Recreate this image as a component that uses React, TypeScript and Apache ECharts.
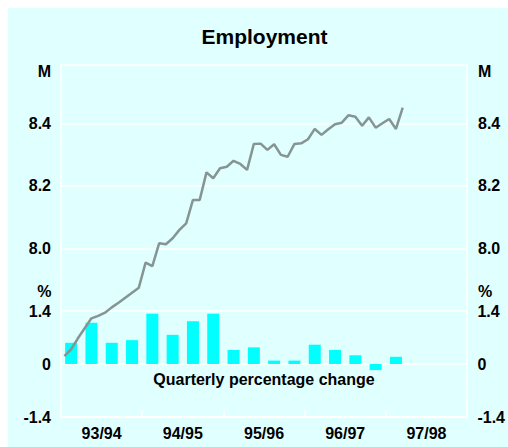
import React, { useEffect, useRef } from "react";
import * as echarts from "echarts";

// Monthly categories: Jul-1993 .. Jun-1998
const monthNames = ["Jul", "Aug", "Sep", "Oct", "Nov", "Dec", "Jan", "Feb", "Mar", "Apr", "May", "Jun"];
const fiscalYears = ["93/94", "94/95", "95/96", "96/97", "97/98"];
const months: string[] = [];
fiscalYears.forEach((fy) => {
  const [a, b] = fy.split("/");
  monthNames.forEach((m, i) => months.push(`${m}-${i < 6 ? a : b}`));
});

// Employment, millions (Jul-93 .. Sep-97)
const employment = [
  7.655, 7.677, 7.712, 7.744, 7.776, 7.784, 7.794, 7.811, 7.826, 7.842, 7.858, 7.874,
  7.954, 7.943, 8.016, 8.013, 8.032, 8.059, 8.08, 8.155, 8.155, 8.243, 8.224, 8.256,
  8.261, 8.28, 8.27, 8.251, 8.334, 8.335, 8.315, 8.333, 8.299, 8.293, 8.334, 8.336,
  8.349, 8.382, 8.363, 8.381, 8.397, 8.402, 8.426, 8.421, 8.392, 8.419, 8.386, 8.4,
  8.414, 8.382, 8.45,
];

// Quarterly percentage change (Sep-93 .. Sep-97), placed at quarter mid-month
const quarterlyChange = [
  0.56, 1.09, 0.56, 0.63, 1.33, 0.77, 1.13, 1.33, 0.37, 0.44, 0.09, 0.09, 0.51, 0.37, 0.23, -0.16, 0.19,
];

const mTicks = [8.0, 8.2, 8.4];
const pctTicks = [-1.4, 0, 1.4];

export default function App() {
  const ref = useRef<HTMLDivElement>(null);
  useEffect(() => {
    const chart = echarts.init(ref.current!, undefined, { renderer: "svg" });
    const barData: (number | string)[] = months.map(() => "-");
    quarterlyChange.forEach((v, q) => {
      barData[1 + 3 * q] = v;
    });
    const font = "'Liberation Sans', Arial, sans-serif";
    const labelStyle = { color: "#000", fontWeight: "bold" as const, fontSize: 16, fontFamily: font };
    const white = { color: "#ffffff", width: 1.5 };
    const fmt1 = (v: number) => (Math.abs(v) < 1e-9 ? "0" : v.toFixed(1));
    const txt = (text: string, x: number, y: number, align: string, size = 16) => ({
      type: "text",
      x,
      y,
      z: 10,
      style: { text, align, verticalAlign: "middle", fill: "#000", font: `bold ${size}px ${font}` },
    });
    chart.setOption({
      animation: false,
      backgroundColor: "#E0FFFF",
      grid: [
        { left: 53, top: 57, width: 406, height: 352, show: true, borderColor: "#ffffff", borderWidth: 1.5, backgroundColor: "transparent" },
        { left: 53, top: 115.3, width: 406, height: 125 },
        { left: 53, top: 303, width: 406, height: 106 },
      ],
      xAxis: [
        { type: "category", gridIndex: 0, data: months, boundaryGap: true, show: false },
        {
          type: "category",
          gridIndex: 0,
          data: fiscalYears,
          position: "bottom",
          boundaryGap: true,
          axisLine: { show: true, lineStyle: white },
          axisTick: { show: true, inside: true, length: 6, lineStyle: white },
          axisLabel: { ...labelStyle, margin: 8 },
          splitLine: { show: false },
        },
        { type: "value", gridIndex: 1, show: false, min: 0, max: 1 },
        { type: "value", gridIndex: 2, show: false, min: 0, max: 1 },
      ],
      yAxis: [
        { type: "value", gridIndex: 0, min: 7.4602, max: 8.5866, show: false, splitLine: { show: false } },
        { type: "value", gridIndex: 0, min: -1.4, max: 7.898, show: false, splitLine: { show: false } },
        {
          type: "value", gridIndex: 1, min: mTicks[0], max: mTicks[2], interval: 0.2, position: "left",
          axisLine: { show: false }, axisTick: { show: false },
          axisLabel: { ...labelStyle, margin: 10, formatter: fmt1 },
          splitLine: { show: true, lineStyle: white },
        },
        {
          type: "value", gridIndex: 1, min: mTicks[0], max: mTicks[2], interval: 0.2, position: "right",
          axisLine: { show: false }, axisTick: { show: false },
          axisLabel: { ...labelStyle, margin: 11, formatter: fmt1 },
          splitLine: { show: false },
        },
        {
          type: "value", gridIndex: 2, min: pctTicks[0], max: pctTicks[2], interval: 1.4, position: "left",
          axisLine: { show: false }, axisTick: { show: false },
          axisLabel: { ...labelStyle, margin: 10, formatter: fmt1 },
          splitLine: { show: true, lineStyle: white },
        },
        {
          type: "value", gridIndex: 2, min: pctTicks[0], max: pctTicks[2], interval: 1.4, position: "right",
          axisLine: { show: false }, axisTick: { show: false },
          axisLabel: { ...labelStyle, margin: 11, formatter: fmt1 },
          splitLine: { show: false },
        },
      ],
      graphic: [
        txt("Employment", 256.5, 28, "center", 21),
        txt("M", 43, 63, "right"),
        txt("M", 470, 63, "left"),
        txt("%", 43.5, 283.5, "right"),
        txt("%", 470, 283.5, "left"),
        txt("Quarterly percentage change", 256, 371, "center"),
      ],
      series: [
        {
          type: "bar",
          xAxisIndex: 0,
          yAxisIndex: 1,
          data: barData,
          barWidth: 12,
          itemStyle: { color: "#00FFFF" },
          z: 2,
        },
        {
          type: "line",
          xAxisIndex: 0,
          yAxisIndex: 0,
          data: employment,
          symbol: "none",
          lineStyle: { color: "#869494", width: 2.5 },
          z: 3,
        },
      ],
    });
    return () => chart.dispose();
  }, []);
  return <div ref={ref} style={{ position: "fixed", left: 8, top: 8, width: 500, height: 439 }} />;
}
